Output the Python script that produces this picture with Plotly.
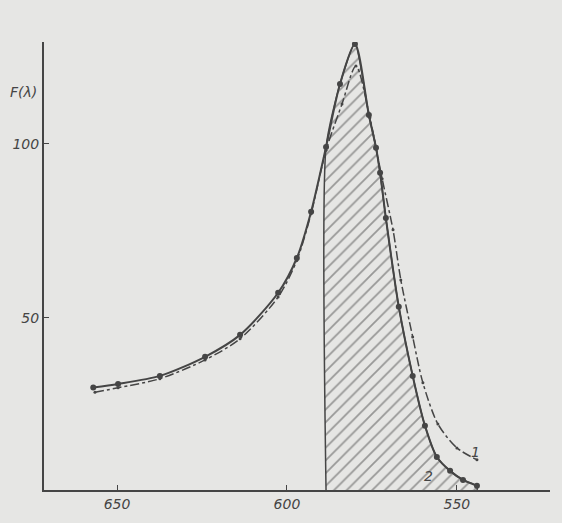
import plotly.graph_objects as go

# Curve 2 (solid, dots) - wavelength in nm, F(lambda)
lam2 = [657.0, 649.7, 637.4, 624.1, 613.8, 602.6, 597.1, 592.9, 588.5, 584.4, 580.0,
        575.9, 573.8, 572.6, 570.9, 567.1, 563.0, 559.4, 555.9, 552.0, 548.2, 544.1]
f2 = [30.0, 31.0, 33.3, 38.8, 45.1, 57.2, 67.2, 80.5, 99.1, 117.2, 128.7,
      108.3, 98.9, 91.7, 78.7, 53.2, 33.3, 19.0, 10.0, 6.0, 3.4, 1.7]

# Curve 1 (dash-dot)
lam1 = [656.5, 649.7, 637.4, 624.1, 613.8, 602.6, 597.1, 592.9, 588.5, 583.8, 579.7,
        575.6, 572.0, 568.8, 566.5, 563.0, 560.0, 555.6, 550.0, 544.1]
f1 = [28.6, 29.9, 32.5, 37.9, 44.0, 56.0, 66.5, 80.0, 98.2, 111.5, 122.4,
      107.5, 90.0, 75.3, 60.9, 44.5, 31.3, 19.5, 12.6, 9.2]

shade_from = 588.5  # start of hatched area (nm)

y_ticks = [50, 100]
y_labels = ["50", "100"]
x_ticks = [650, 600, 550]
x_labels = ["650", "600", "550"]

ink = "#454545"
bg = "#e6e6e4"
font = dict(family="DejaVu Sans", size=14, color="#454545", style="italic")

fig = go.Figure()

# hatched area under curve 2
sx = [x for x in lam2 if x <= shade_from]
sy = [y for x, y in zip(lam2, f2) if x <= shade_from]
fig.add_trace(go.Scatter(
    x=[sx[0]] + sx + [sx[-1]], y=[0] + sy + [0],
    mode="lines", line=dict(color=ink, width=1.5, shape="spline", smoothing=0.6),
    fill="toself", fillcolor="rgba(0,0,0,0)",
    fillpattern=dict(shape="/", fgcolor="#4a4a4a", bgcolor="rgba(0,0,0,0)",
                     size=9, solidity=0.2),
    hoverinfo="skip", showlegend=False))

fig.add_trace(go.Scatter(
    x=lam1, y=f1, mode="lines+markers",
    line=dict(color=ink, width=1.5, dash="dashdot", shape="spline", smoothing=0.8),
    marker=dict(size=3, color=ink), showlegend=False))

fig.add_trace(go.Scatter(
    x=lam2, y=f2, mode="lines+markers",
    line=dict(color=ink, width=2, shape="spline", smoothing=0.8),
    marker=dict(size=6, color=ink), showlegend=False))

fig.add_annotation(x=544.5, y=11.5, text="1", showarrow=False, font=font)
fig.add_annotation(x=558.5, y=4.5, text="2", showarrow=False, font=font)
fig.add_annotation(xref="paper", yref="y", x=-0.01, y=115, text="F(λ)",
                   showarrow=False, xanchor="right", font=font)

fig.update_layout(
    width=562, height=523,
    margin=dict(l=44, r=12, t=42, b=33),
    paper_bgcolor=bg, plot_bgcolor=bg,
    xaxis=dict(range=[671.5, 522.6], showgrid=False, zeroline=False,
               showline=True, linecolor=ink, linewidth=2,
               ticks="inside", ticklen=5, tickcolor=ink,
               tickvals=x_ticks, ticktext=x_labels, tickfont=font),
    yaxis=dict(range=[0.5, 129.3], showgrid=False, zeroline=False,
               showline=True, linecolor=ink, linewidth=2,
               ticks="inside", ticklen=5, tickcolor=ink,
               tickvals=y_ticks, ticktext=y_labels, tickfont=font),
)

fig.write_html("out.html",
               config={"displayModeBar": False},
               post_script="document.body.style.margin='0';"
                           "document.body.style.background='#e6e6e4';")
